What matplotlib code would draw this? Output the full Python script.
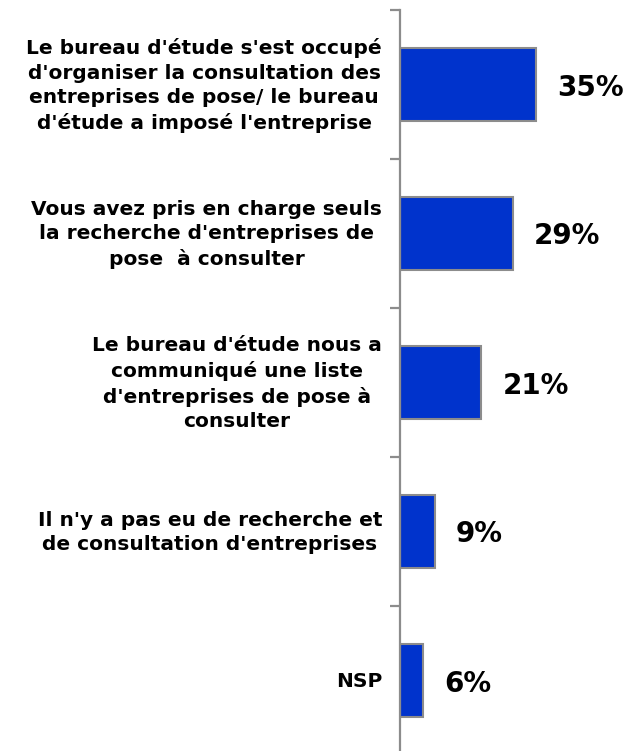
import matplotlib
matplotlib.use("Agg")
import matplotlib.pyplot as plt

# data
labels = [
    "Le bureau d'étude s'est occupé\nd'organiser la consultation des\nentreprises de pose/ le bureau\nd'étude a imposé l'entreprise",
    "Vous avez pris en charge seuls\nla recherche d'entreprises de\npose  à consulter",
    "Le bureau d'étude nous a\ncommuniqué une liste\nd'entreprises de pose à\nconsulter",
    "Il n'y a pas eu de recherche et\nde consultation d'entreprises",
    "NSP",
]
values = [35, 29, 21, 9, 6]

plt.rcParams['font.family'] = ['DejaVu Sans']

fig = plt.figure(figsize=(6.26, 7.51), dpi=100)
ax = fig.add_axes([400/626, -4/751, 226/626, 745/751])

ypos = list(range(len(values)))
ax.barh(ypos, values, height=0.49, color="#0033cc", edgecolor="#8c8c8c", linewidth=1.5)

ax.set_xlim(0, 226/3.88)
ax.set_ylim(len(values) - 0.5, -0.5)

for s in ["top", "right", "bottom"]:
    ax.spines[s].set_visible(False)
ax.spines["left"].set_color("#8c8c8c")
ax.spines["left"].set_linewidth(1.6)
ax.set_xticks([])
ax.set_yticks([i - 0.5 for i in range(len(values))])
ax.set_yticklabels([])
ax.tick_params(axis="y", length=7, width=1.6, color="#8c8c8c", direction="out")

for i, (lab, v) in enumerate(zip(labels, values)):
    ax.annotate(lab, xy=(0, i), xytext=(-18, -1), textcoords="offset pixels",
                ha="right", va="center", multialignment="center",
                fontsize=14.5, fontweight="bold", linespacing=1.36,
                annotation_clip=False)
    ax.annotate(f"{v}%", xy=(v, i), xytext=(21, -3), textcoords="offset pixels",
                ha="left", va="center", fontsize=20, fontweight="bold")

fig.savefig("out.png", dpi=100)
